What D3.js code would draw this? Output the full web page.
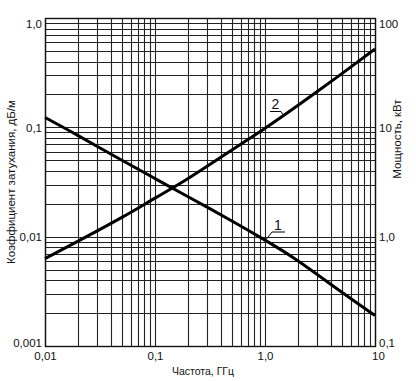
<!DOCTYPE html>
<html><head><meta charset="utf-8">
<script src="https://cdn.jsdelivr.net/npm/d3@7"></script>
<style>html,body{margin:0;padding:0;background:#fff}svg{display:block}text{font-family:"Liberation Sans",Arial,sans-serif;fill:#111}</style>
</head><body><div id="chart"></div>
<script>
const freq = [0.01, 0.02, 0.05, 0.1, 0.2, 0.5, 1, 2, 5, 10];
const attenuation = [0.123, 0.084, 0.050, 0.034, 0.0232, 0.0139, 0.0093, 0.0060, 0.0031, 0.0019];
const power = [0.63, 0.91, 1.5, 2.25, 3.4, 6.2, 9.8, 15.9, 31.0, 52.0];
const xTicks = [0.01, 0.1, 1, 10];
const xTickLabels = ["0,01", "0,1", "1,0", "10"];
const yLeftTicks = [0.001, 0.01, 0.1, 1];
const yLeftLabels = ["0,001", "0,01", "0,1", "1,0"];
const yRightTicks = [0.1, 1, 10, 100];
const yRightLabels = ["0,1", "1,0", "10", "100"];
const xTitle = "Частота, ГГц";
const yLeftTitle = "Коэффициент затухания, дБ/м";
const yRightTitle = "Мощность, кВт";

const W = 416, H = 381;
const m = {left: 45, right: 41, top: 18, bottom: 35};
const svg = d3.select("#chart").append("svg").attr("width", W).attr("height", H);
const x = d3.scaleLog().domain([0.01, 10]).range([m.left, W - m.right]);
const yL = d3.scaleLog().domain([0.001, 1]).range([H - m.bottom, m.top]);
const yR = d3.scaleLog().domain([0.1, 100]).range([H - m.bottom, m.top]);

// grid
const xGrid = [];
for (let d = 0.01; d < 10; d *= 10) for (let k = 1; k <= 9; k++) xGrid.push(+(d * k).toPrecision(3));
xGrid.push(10);
const yGrid = [];
for (let d = 0.001; d < 1; d *= 10) for (let k = 1; k <= 9; k++) yGrid.push(+(d * k).toPrecision(3));
yGrid.push(1);

const g = svg.append("g");
g.selectAll("line.vx").data(xGrid).join("line")
  .attr("x1", d => Math.round(x(d)) + 0.5).attr("x2", d => Math.round(x(d)) + 0.5)
  .attr("y1", m.top).attr("y2", H - m.bottom)
  .attr("stroke", "#222").attr("stroke-width", 1.1);
g.selectAll("line.hy").data(yGrid).join("line")
  .attr("y1", d => Math.round(yL(d)) + 0.5).attr("y2", d => Math.round(yL(d)) + 0.5)
  .attr("x1", m.left).attr("x2", W - m.right)
  .attr("stroke", "#222").attr("stroke-width", 1.1);
g.append("rect").attr("x", m.left + 0.5).attr("y", m.top + 0.5)
  .attr("width", W - m.left - m.right).attr("height", H - m.top - m.bottom)
  .attr("fill", "none").attr("stroke", "#111").attr("stroke-width", 1.4);

// axes (labels only)
const xAxis = d3.axisBottom(x).tickValues(xTicks).tickSize(0).tickPadding(0)
  .tickFormat((d, i) => xTickLabels[i]);
const ax = svg.append("g").attr("transform", `translate(0,${H - m.bottom})`).call(xAxis);
ax.select(".domain").remove();
ax.selectAll("text").attr("font-size", 11.5).attr("dy", null).attr("y", 14)
  .attr("font-family", '"Liberation Sans",Arial,sans-serif').attr("fill", "#111")
  .attr("dx", (d) => d === 10 ? 3 : 0);

const lAxis = d3.axisLeft(yL).tickValues(yLeftTicks).tickSize(0).tickPadding(3)
  .tickFormat((d, i) => yLeftLabels[i]);
const al = svg.append("g").attr("transform", `translate(${m.left},0)`).call(lAxis);
al.select(".domain").remove();
al.selectAll("text").attr("font-size", 11.5)
  .attr("font-family", '"Liberation Sans",Arial,sans-serif').attr("fill", "#111")
  .attr("dy", d => (d === 1 ? 5 : d === 0.001 ? -3.5 : 0) + 4 + "px");

const rAxis = d3.axisRight(yR).tickValues(yRightTicks).tickSize(0).tickPadding(4)
  .tickFormat((d, i) => yRightLabels[i]);
const ar = svg.append("g").attr("transform", `translate(${W - m.right},0)`).call(rAxis);
ar.select(".domain").remove();
ar.selectAll("text").attr("font-size", 11.5)
  .attr("font-family", '"Liberation Sans",Arial,sans-serif').attr("fill", "#111")
  .attr("dy", d => (d === 100 ? 5 : d === 0.1 ? -3.5 : 0) + 4 + "px");

// titles
svg.append("text").attr("x", 203).attr("y", 375).attr("text-anchor", "middle")
  .attr("font-size", 10.5).text(xTitle);
svg.append("text").attr("transform", `translate(15,${(m.top + H - m.bottom) / 2}) rotate(-90)`)
  .attr("text-anchor", "middle").attr("font-size", 11.5).text(yLeftTitle);
svg.append("text").attr("transform", `translate(401,139) rotate(-90)`)
  .attr("text-anchor", "middle").attr("font-size", 11.5).text(yRightTitle);

// curves
const line1 = d3.line().x((d, i) => x(freq[i])).y(d => yL(d)).curve(d3.curveNatural);
const line2 = d3.line().x((d, i) => x(freq[i])).y(d => yR(d)).curve(d3.curveNatural);
svg.append("path").attr("d", line1(attenuation)).attr("fill", "none").attr("stroke", "#000").attr("stroke-width", 3);
svg.append("path").attr("d", line2(power)).attr("fill", "none").attr("stroke", "#000").attr("stroke-width", 3);

// curve labels with leaders
function callout(label, fx, yScale, val, tx, ty) {
  const px = x(fx), py = yScale(val);
  svg.append("text").attr("x", tx).attr("y", ty).attr("text-anchor", "middle")
    .attr("font-size", 14).text(label);
  return [px, py];
}
const p2 = callout("2", 1.46, yR, 12.7, 275.5, 109);
svg.append("polyline").attr("points", `270,111.5 281,111.5 ${p2[0]},${p2[1] - 1}`)
  .attr("fill", "none").attr("stroke", "#000").attr("stroke-width", 1);
const p1 = callout("1", 1.02, yL, 0.0092, 278, 230);
svg.append("polyline").attr("points", `285,232 272,232 ${p1[0]},${p1[1] - 1}`)
  .attr("fill", "none").attr("stroke", "#000").attr("stroke-width", 1);
</script></body></html>
